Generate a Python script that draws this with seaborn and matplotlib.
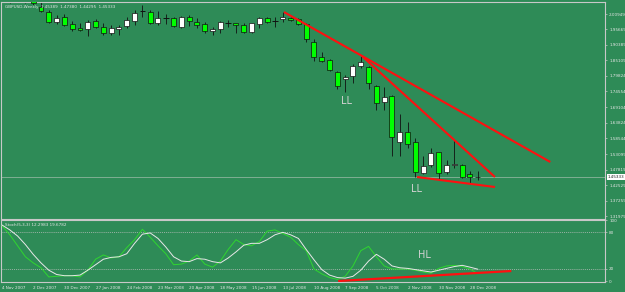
import numpy as np
import pandas as pd
import matplotlib
matplotlib.use('Agg')
import matplotlib.pyplot as plt
import seaborn as sns

#========================= Data ===============================================
# weekly GBPUSD bars, first bar = week of 4 Nov 2007
opens  = [2.0815, 2.0885, 2.0560, 2.0640, 2.0700, 2.0334, 2.0163, 1.9822, 1.9993, 1.9754,
          1.9617, 1.9583, 1.9856, 1.9651, 1.9446, 1.9583, 1.9685, 1.9856, 2.0197, 2.0163,
          1.9788, 1.9958, 1.9958, 1.9651, 1.9993, 1.9822, 1.9754, 1.9515, 1.9583, 1.9788,
          1.9788, 1.9720, 1.9480, 1.9754, 1.9958, 1.9856, 1.9924, 1.9958, 1.9924, 1.9754,
          1.9139, 1.8627, 1.8524, 1.8115, 1.7876, 1.7978, 1.8319, 1.8286, 1.7637, 1.7091,
          1.7295, 1.5725, 1.6067, 1.5725, 1.4667, 1.4940, 1.5384, 1.4701, 1.4940, 1.4940,
          1.4633, 1.45389]
highs  = [2.1160, 2.0950, 2.0780, 2.0790, 2.0800, 2.0500, 2.0232, 2.0061, 2.0095, 1.9856,
          1.9788, 1.9890, 1.9924, 1.9788, 1.9720, 1.9720, 1.9993, 2.0232, 2.0402, 2.0232,
          2.0197, 2.0095, 1.9993, 2.0027, 2.0061, 1.9958, 1.9822, 1.9651, 1.9856, 1.9890,
          1.9800, 1.9788, 1.9800, 1.9993, 1.9993, 1.9993, 2.0163, 1.9993, 1.9958, 1.9788,
          1.9242, 1.8798, 1.8559, 1.8149, 1.8012, 1.8388, 1.8661, 1.8319, 1.7671, 1.7603,
          1.7330, 1.6681, 1.6408, 1.5862, 1.5247, 1.5520, 1.5384, 1.5111, 1.5793, 1.4974,
          1.4735, 1.47380]
lows   = [2.0797, 2.0480, 2.0500, 2.0460, 2.0400, 2.0160, 1.9788, 1.9754, 1.9685, 1.9515,
          1.9515, 1.9344, 1.9617, 1.9378, 1.9378, 1.9378, 1.9617, 1.9720, 1.9993, 1.9754,
          1.9720, 1.9754, 1.9651, 1.9617, 1.9685, 1.9617, 1.9446, 1.9378, 1.9446, 1.9651,
          1.9446, 1.9446, 1.9446, 1.9617, 1.9788, 1.9651, 1.9822, 1.9856, 1.9720, 1.9139,
          1.8490, 1.8456, 1.8149, 1.7534, 1.7432, 1.7739, 1.8251, 1.7534, 1.6817, 1.6817,
          1.5247, 1.5247, 1.5520, 1.4530, 1.4633, 1.4872, 1.4428, 1.4633, 1.4838, 1.4496,
          1.4325, 1.44295]
closes = [2.0885, 2.0560, 2.0640, 2.0700, 2.0470, 2.0197, 1.9822, 1.9958, 1.9719, 1.9583,
          1.9549, 1.9822, 1.9651, 1.9446, 1.9617, 1.9651, 1.9890, 2.0129, 2.0197, 1.9788,
          1.9958, 1.9958, 1.9685, 1.9993, 1.9856, 1.9720, 1.9515, 1.9583, 1.9822, 1.9788,
          1.9720, 1.9480, 1.9788, 1.9958, 1.9822, 1.9856, 1.9993, 1.9890, 1.9754, 1.9242,
          1.8627, 1.8490, 1.8183, 1.7637, 1.7944, 1.8319, 1.8456, 1.7739, 1.7056, 1.7261,
          1.5896, 1.6067, 1.5657, 1.4701, 1.4906, 1.5350, 1.4667, 1.4940, 1.4974, 1.4530,
          1.4530, 1.45333]

# Stoch(5,3,3) main (green) and signal (white)
stoch_main   = [91, 76, 58, 40, 30, 22, 7, 8, 9, 9, 7, 18, 36, 43, 38, 40, 55, 68, 85, 72,
                58, 45, 27, 28, 33, 43, 28, 23, 33, 52, 68, 60, 58, 65, 82, 84, 78, 72, 60, 50,
                20, 12, 6, 3, 8, 25, 50, 57, 40, 25, 20, 20, 20, 18, 15, 13, 21, 25, 26, 24,
                20, 12.3]
stoch_signal = [92, 84, 74, 60, 44, 30, 18, 11, 9, 9, 10, 18, 27, 36, 39, 40, 45, 62, 77, 79,
                70, 56, 40, 33, 32, 37, 36, 32, 30, 38, 48, 59, 62, 62, 68, 76, 80, 76, 70, 52,
                35, 19, 10, 6, 5, 8, 18, 33, 44, 36, 25, 22, 21, 19, 17, 15, 18, 21, 24, 26,
                23, 19.7]

date_labels = ['4 Nov 2007', '2 Dec 2007', '30 Dec 2007', '27 Jan 2008', '24 Feb 2008',
               '23 Mar 2008', '20 Apr 2008', '18 May 2008', '15 Jun 2008', '13 Jul 2008',
               '10 Aug 2008', '7 Sep 2008', '5 Oct 2008', '2 Nov 2008', '30 Nov 2008',
               '28 Dec 2008']
price_ticks = [2.00949, 1.95669, 1.90389, 1.85109, 1.79824, 1.74554, 1.69104, 1.63824,
               1.58544, 1.53099, 1.47819, 1.42529, 1.37259, 1.31979]
stoch_ticks = [0, 20, 80, 100]
last_price = 1.45333

# hand drawn trend lines: (bar index, value)
trend_a = ([36.15, 70.3], [2.0163, 1.5042])
trend_b = ([46.15, 63.2], [1.8661, 1.4530])
trend_c = ([53.2, 63.2], [1.4530, 1.4188])
trend_stoch = ([43.1, 65.3], [0.3, 16.7])

#========================= Figure =============================================
sns.set_style('dark')
plt.rcParams['font.family'] = ['DejaVu Sans']

bg = '#2e8b57'
frame = '#c8c8c8'
txt = '#e6e6e6'
small = 3.0

W, H = 625, 292
fig = plt.figure(figsize=(W/100, H/100), dpi=100, facecolor=bg)
ax1 = fig.add_axes([1.5/W, 1-218.5/H, (605-1.5)/W, (218.5-1.5)/H])
ax2 = fig.add_axes([1.5/W, 1-282/H, (605-1.5)/W, (282-220)/H])

df = pd.DataFrame({'open': opens, 'high': highs, 'low': lows, 'close': closes,
                   'main': stoch_main, 'signal': stoch_signal})
df['i'] = np.arange(len(df))
up = df['close'] > df['open']
dn = df['close'] < df['open']
flat = ~(up | dn)

for ax in (ax1, ax2):
    ax.set_facecolor(bg)
    ax.grid(False)
    for s in ax.spines.values():
        s.set_color(frame)
        s.set_linewidth(0.8)
    ax.set_xlim(-0.064, 77.31)

# candles
ax1.vlines(df['i'], df['low'], df['high'], color='#111111', lw=0.6, zorder=2)
ax1.bar(df.loc[dn, 'i'], df.loc[dn, 'open'] - df.loc[dn, 'close'], bottom=df.loc[dn, 'close'],
        width=0.64, color='#00ff00', edgecolor='#111111', linewidth=0.5, zorder=3)
ax1.bar(df.loc[up, 'i'], df.loc[up, 'close'] - df.loc[up, 'open'], bottom=df.loc[up, 'open'],
        width=0.64, color='#ffffff', edgecolor='#111111', linewidth=0.5, zorder=3)
ax1.hlines(df.loc[flat, 'close'], df.loc[flat, 'i'] - 0.35, df.loc[flat, 'i'] + 0.35,
           color='#111111', lw=0.7, zorder=3)

ax1.axhline(last_price, color='#8cb49c', lw=0.6, zorder=1)
for xs, ys in (trend_a, trend_b, trend_c):
    ax1.plot(xs, ys, color='#ff1010', lw=1.5, zorder=4, solid_capstyle='butt')

ax1.set_ylim(1.3113, 2.0522)
ax1.yaxis.tick_right()
ax1.set_yticks(price_ticks)
ax1.set_yticklabels(['%.5f' % v for v in price_ticks])
ax1.tick_params(axis='y', labelsize=small, colors=frame, labelcolor=txt, length=1.5, width=0.5, pad=1.5)
ax1.set_xticks([])
ax1.text(77.6, last_price, '%.5f' % last_price, transform=ax1.transData, fontsize=small,
         color='#222222', va='center', ha='left', clip_on=False,
         bbox=dict(boxstyle='square,pad=0.15', fc='white', ec='none'))

ax1.text(44.2, 1.7125, 'LL', color='#d2d2d2', fontsize=7, ha='center', va='center')
ax1.text(53.1, 1.4120, 'LL', color='#d2d2d2', fontsize=7, ha='center', va='center')
ax1.text(0.006, 0.985, 'GBPUSD,Weekly  1.45389  1.47380  1.44295  1.45333', transform=ax1.transAxes,
         fontsize=small, color=txt, ha='left', va='top')

# stochastic
for lvl in (20, 80):
    ax2.axhline(lvl, color='#c0c0c0', lw=0.5, ls=(0, (1.5, 1.5)), zorder=1)
sns.lineplot(data=df, x='i', y='main', ax=ax2, color='#2fd62f', lw=0.7, zorder=3)
sns.lineplot(data=df, x='i', y='signal', ax=ax2, color='#e8e8e8', lw=0.7, zorder=3)
ax2.plot(*trend_stoch, color='#ff1010', lw=1.6, zorder=4, solid_capstyle='butt')
ax2.text(54.2, 42.9, 'HL', color='#d2d2d2', fontsize=7, ha='center', va='center')
ax2.text(0.005, 0.95, 'Stoch(5,3,3) 12.2983 19.6782', transform=ax2.transAxes,
         fontsize=small, color=txt, ha='left', va='top')

ax2.set_ylim(-1.3, 100.2)
ax2.yaxis.tick_right()
ax2.set_yticks(stoch_ticks)
ax2.set_yticklabels([str(v) for v in stoch_ticks])
ax2.tick_params(axis='y', labelsize=small, colors=frame, labelcolor=txt, length=1.5, width=0.5, pad=1.5)
ax2.set_xticks(np.arange(0, 4*len(date_labels), 4))
ax2.set_xticklabels(date_labels)
for lab in ax2.get_xticklabels():
    lab.set_ha('left')
ax2.tick_params(axis='x', labelsize=small, colors=frame, labelcolor=txt, length=2, width=0.5, pad=1)
ax2.set_xlabel('')
ax2.set_ylabel('')

fig.savefig('out.png', dpi=100, facecolor=bg)
